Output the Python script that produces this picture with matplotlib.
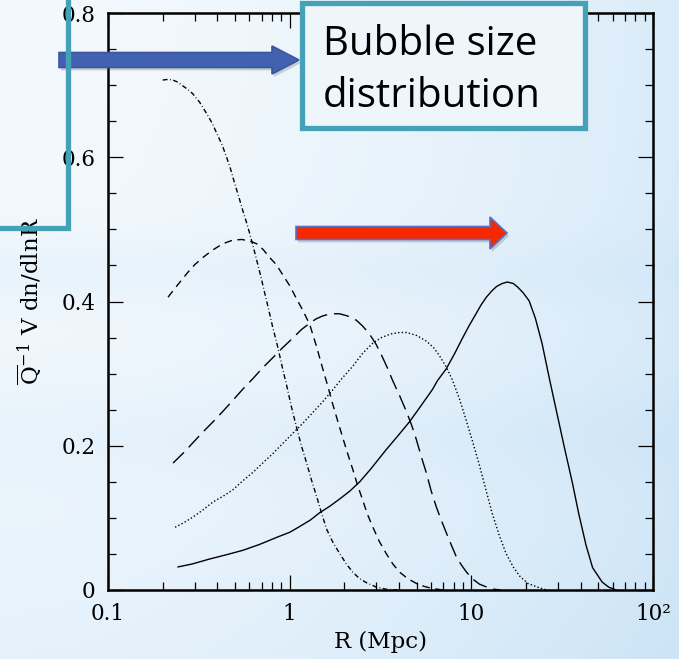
import numpy as np
import matplotlib
matplotlib.use("Agg")
import matplotlib.pyplot as plt
from matplotlib.patches import Polygon, Rectangle
from matplotlib.ticker import FixedLocator, MultipleLocator, NullFormatter

W, H = 679, 659

# bubble size distributions, one curve per neutral fraction
R_dashdot = [0.200, 0.214, 0.228, 0.243, 0.258, 0.275, 0.293, 0.320, 0.350, 0.375,
             0.397, 0.425, 0.451, 0.475, 0.499, 0.525, 0.552, 0.578, 0.603, 0.630,
             0.659, 0.695, 0.730, 0.768, 0.807, 0.845, 0.881, 0.920, 0.964, 1.02,
             1.09, 1.16, 1.24, 1.32, 1.41, 1.50, 1.60, 1.73, 1.88, 2.04,
             2.22, 2.42, 2.65, 3.00, 3.41, 3.90]
V_dashdot = [0.707, 0.708, 0.707, 0.704, 0.699, 0.694, 0.688, 0.676, 0.660, 0.647,
             0.633, 0.617, 0.599, 0.582, 0.563, 0.545, 0.526, 0.510, 0.494, 0.476,
             0.457, 0.434, 0.411, 0.388, 0.364, 0.345, 0.325, 0.304, 0.283, 0.255,
             0.226, 0.200, 0.176, 0.152, 0.129, 0.106, 0.084, 0.066, 0.051, 0.037,
             0.025, 0.016, 0.010, 0.004, 0.001, 0.0]

R_short = [0.214, 0.240, 0.272, 0.300, 0.333, 0.375, 0.428, 0.485, 0.544, 0.600,
           0.659, 0.715, 0.776, 0.845, 0.916, 1.00, 1.09, 1.18, 1.29, 1.40,
           1.52, 1.62, 1.72, 1.83, 1.95, 2.08, 2.22, 2.36, 2.52, 2.68,
           2.86, 3.12, 3.41, 3.70, 4.02, 4.45, 4.99, 5.50, 6.11, 7.00]
V_short = [0.406, 0.422, 0.439, 0.451, 0.461, 0.471, 0.480, 0.485, 0.486, 0.484,
           0.480, 0.472, 0.461, 0.451, 0.437, 0.422, 0.404, 0.388, 0.368, 0.339,
           0.307, 0.283, 0.259, 0.236, 0.213, 0.190, 0.168, 0.146, 0.125, 0.105,
           0.088, 0.067, 0.050, 0.036, 0.025, 0.016, 0.009, 0.005, 0.002, 0.0]

R_long = [0.228, 0.260, 0.293, 0.333, 0.378, 0.430, 0.487, 0.550, 0.627, 0.710,
          0.807, 0.915, 1.038, 1.16, 1.29, 1.40, 1.52, 1.68, 1.88, 2.08,
          2.33, 2.52, 2.75, 3.00, 3.24, 3.45, 3.68, 4.02, 4.40, 4.70,
          4.99, 5.30, 5.66, 6.00, 6.42, 6.85, 7.29, 7.80, 8.27, 8.80,
          9.39, 10.2, 11.1, 12.2, 13.4, 14.5]
V_long = [0.176, 0.190, 0.204, 0.219, 0.233, 0.248, 0.263, 0.278, 0.293, 0.308,
          0.322, 0.336, 0.349, 0.361, 0.370, 0.376, 0.380, 0.383, 0.383, 0.380,
          0.374, 0.366, 0.355, 0.340, 0.323, 0.308, 0.291, 0.270, 0.247, 0.228,
          0.208, 0.185, 0.162, 0.138, 0.115, 0.096, 0.079, 0.061, 0.046, 0.035,
          0.025, 0.015, 0.008, 0.004, 0.001, 0.0]

R_dot = [0.234, 0.260, 0.293, 0.333, 0.378, 0.430, 0.487, 0.550, 0.627, 0.710,
         0.807, 0.915, 1.038, 1.18, 1.34, 1.52, 1.72, 1.95, 2.22, 2.52,
         2.86, 3.20, 3.60, 4.02, 4.40, 4.99, 5.66, 6.20, 6.67, 7.29,
         7.87, 8.60, 9.30, 10.1, 11.0, 12.0, 13.0, 14.2, 15.5, 17.0,
         18.5, 20.5, 23.7, 26.0]
V_dot = [0.087, 0.093, 0.101, 0.111, 0.122, 0.130, 0.139, 0.151, 0.163, 0.176,
         0.189, 0.203, 0.217, 0.231, 0.246, 0.261, 0.277, 0.294, 0.310, 0.328,
         0.342, 0.350, 0.355, 0.357, 0.357, 0.353, 0.345, 0.336, 0.325, 0.309,
         0.291, 0.265, 0.238, 0.208, 0.176, 0.140, 0.107, 0.077, 0.051, 0.032,
         0.019, 0.009, 0.003, 0.0]

R_solid = [0.243, 0.290, 0.363, 0.450, 0.552, 0.680, 0.849, 1.00, 1.135, 1.30,
           1.46, 1.66, 1.88, 2.14, 2.43, 2.80, 3.10, 3.41, 3.95, 4.56,
           5.20, 6.11, 6.50, 7.29, 8.10, 8.93, 9.70, 10.5, 11.3, 12.1,
           13.0, 13.8, 14.8, 15.8, 17.0, 18.0, 19.3, 20.8, 22.5, 24.5,
           26.9, 29.3, 32.5, 35.9, 39.0, 42.8, 46.5, 52.5, 57.0, 62.6]
V_solid = [0.032, 0.036, 0.043, 0.049, 0.055, 0.063, 0.073, 0.080, 0.088, 0.097,
           0.107, 0.116, 0.126, 0.137, 0.150, 0.168, 0.182, 0.195, 0.214, 0.233,
           0.253, 0.278, 0.290, 0.307, 0.328, 0.349, 0.366, 0.381, 0.395, 0.406,
           0.415, 0.421, 0.425, 0.427, 0.425, 0.420, 0.412, 0.401, 0.377, 0.342,
           0.293, 0.250, 0.198, 0.150, 0.106, 0.062, 0.031, 0.011, 0.004, 0.0]

x_ticks = [0.1, 1, 10, 100]
x_labels = ["0.1", "1", "10", "10²"]
y_ticks = [0, 0.2, 0.4, 0.6, 0.8]
y_labels = ["0", "0.2", "0.4", "0.6", "0.8"]

plt.rcParams["font.family"] = ["DejaVu Serif"]
plt.rcParams["mathtext.fontset"] = "dejavuserif"

fig = plt.figure(figsize=(W / 100, H / 100), dpi=100)

# slide background: pale centre, bluer towards the right and bottom
bg = fig.add_axes([0, 0, 1, 1], zorder=0)
yy, xx = np.mgrid[0:1:200j, 0:1:200j]
b = 0.10 + 0.55 * xx ** 1.8 + 0.30 * yy ** 2
b += 0.18 * np.exp(-((yy - 0.41) / 0.05) ** 2) * (1 - 0.5 * xx)
b += 0.12 * np.exp(-((yy - 0.66) / 0.07) ** 2)
b = np.clip(b, 0, 1)[..., None]
white = np.array([0.972, 0.985, 0.997])
blue = np.array([0.790, 0.890, 0.965])
bg.imshow(white + b * (blue - white), extent=[0, 1, 0, 1], aspect="auto")
bg.axis("off")

ax = fig.add_axes([108 / W, 69 / H, 545 / W, 577 / H], zorder=1)
ax.patch.set_alpha(0)
ax.set_xscale("log")
ax.set_xlim(0.1, 100)
ax.set_ylim(0, 0.8)

lw = 1.0
ax.plot(R_dashdot, V_dashdot, color="black", lw=lw, linestyle=(0, (3.5, 1.8, 0.6, 1.8)))
ax.plot(R_short, V_short, color="black", lw=lw, linestyle=(0, (5.5, 4.0)))
ax.plot(R_long, V_long, color="black", lw=lw, linestyle=(0, (11, 5)))
ax.plot(R_dot, V_dot, color="black", lw=lw, linestyle=(0, (1.0, 1.6)))
ax.plot(R_solid, V_solid, color="black", lw=lw)

ax.xaxis.set_major_locator(FixedLocator(x_ticks))
ax.set_xticklabels(x_labels)
ax.xaxis.set_minor_formatter(NullFormatter())
ax.yaxis.set_major_locator(FixedLocator(y_ticks))
ax.set_yticklabels(y_labels)
ax.yaxis.set_minor_locator(MultipleLocator(0.05))

ax.tick_params(which="both", direction="in", top=True, right=True, width=0.9, colors="black")
ax.tick_params(which="major", length=11, labelsize=15.5, pad=9)
ax.tick_params(which="minor", length=5.5)
for s in ax.spines.values():
    s.set_linewidth(1.8)

fig.text(380 / W, 1 - 642 / H, "R (Mpc)", ha="center", va="center", fontsize=16.5)
fig.text(30 / W, 1 - 301 / H, r"$\overline{\mathrm{Q}}^{-1}$ V dn/dlnR",
         rotation=90, ha="center", va="center", fontsize=16.5)

# slide annotations drawn in pixel coordinates on top
ov = fig.add_axes([0, 0, 1, 1], zorder=5)
ov.set_xlim(0, W)
ov.set_ylim(H, 0)
ov.axis("off")
ov.patch.set_alpha(0)

teal = "#45a2b6"
ov.plot([68, 68, -5], [-5, 228, 228], color=teal, lw=3.8, solid_joinstyle="miter")

def arrow(x0, x1, xh, yc, hb, hh, face, edge):
    pts = [(x0, yc - hb), (x1, yc - hb), (x1, yc - hh), (xh, yc),
           (x1, yc + hh), (x1, yc + hb), (x0, yc + hb)]
    shadow = [(x + 2, y + 3) for x, y in pts]
    ov.add_patch(Polygon(shadow, closed=True, facecolor="#555555", alpha=0.25, lw=0))
    ov.add_patch(Polygon(pts, closed=True, facecolor=face, edgecolor=edge, lw=1.2))

arrow(59, 272, 299, 60, 7.5, 14, "#4262b0", "#3a579f")
arrow(296, 490, 507, 233, 6.5, 16, "#f52800", "#5a70c8")

ov.add_patch(Rectangle((302, 3), 283, 125, facecolor="#eef5fb", edgecolor=teal, lw=3.8))
ov.text(323, 55, "Bubble size", fontsize=29, family=["Open Sans", "DejaVu Sans"],
        ha="left", va="baseline", color="black")
ov.text(323, 107, "distribution", fontsize=29, family=["Open Sans", "DejaVu Sans"],
        ha="left", va="baseline", color="black")

fig.savefig("out.png", dpi=100)
